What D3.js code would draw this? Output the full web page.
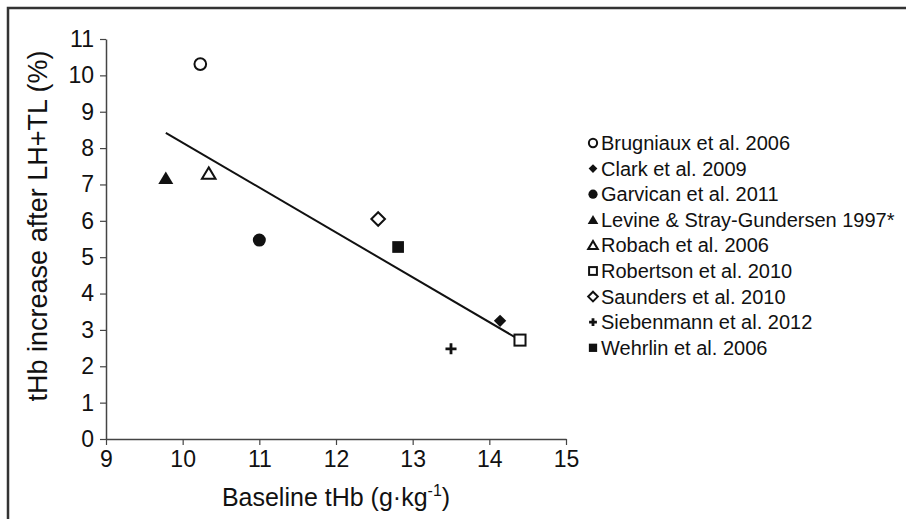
<!DOCTYPE html>
<html><head><meta charset="utf-8">
<script src="https://cdn.jsdelivr.net/npm/d3@7/dist/d3.min.js"></script>
<style>body{margin:0;background:#fff;font-family:"Liberation Sans",Arial,sans-serif;}</style>
</head><body>
<svg id="c" width="906" height="519"></svg>
<script>
const studies = ["Brugniaux et al. 2006","Clark et al. 2009","Garvican et al. 2011","Levine & Stray-Gundersen 1997*","Robach et al. 2006","Robertson et al. 2010","Saunders et al. 2010","Siebenmann et al. 2012","Wehrlin et al. 2006"];
const baselineTHb = [10.23, 14.14, 11.0, 9.78, 10.34, 14.4, 12.55, 13.5, 12.81];
const increasePct = [10.31, 3.25, 5.47, 7.17, 7.3, 2.72, 6.05, 2.48, 5.28];
const markerTypes = ["circleOpen","diamondFilled","circleFilled","triFilled","triOpen","squareOpen","diamondOpen","plus","squareFilled"];
const regX = [9.78, 14.4];
const regY = [8.42, 2.72];
const xTicks = [9,10,11,12,13,14,15];
const yTicks = [0,1,2,3,4,5,6,7,8,9,10,11];

const FONT = "Liberation Sans, Arial, sans-serif";
const svg = d3.select("#c");
// frame
svg.append("path").attr("d","M8,530 L8,8 L920,8").attr("fill","none").attr("stroke","#333").attr("stroke-width",2.5);

const x = d3.scaleLinear().domain([9,15]).range([106,566]);
const y = d3.scaleLinear().domain([0,11]).range([439,39]);

const gx = svg.append("g").attr("transform","translate(0,439)")
  .call(d3.axisBottom(x).tickValues(xTicks).tickFormat(d3.format("d")).tickSize(6).tickSizeOuter(0).tickPadding(6));
const gy = svg.append("g").attr("transform","translate(106,0)")
  .call(d3.axisLeft(y).tickValues(yTicks).tickFormat(d3.format("d")).tickSize(6).tickSizeOuter(0).tickPadding(6));
[gx,gy].forEach(g=>{
  g.attr("font-size",null).attr("font-family",null);
  g.select(".domain").attr("stroke","#444").attr("stroke-width",1.5);
  g.selectAll(".tick line").attr("stroke","#444").attr("stroke-width",1.2);
  g.selectAll("text").style("font-family",FONT).style("font-size","23px").attr("fill","#111");
});

svg.append("text").attr("x",336).attr("y",506).attr("text-anchor","middle")
  .style("font-size","25px").style("font-family",FONT).attr("fill","#111")
  .html('Baseline tHb (g·kg<tspan dy="-10" style="font-size:16px">-1</tspan><tspan dy="10">)</tspan>');
svg.append("text").attr("transform","translate(47,226) rotate(-90)").attr("text-anchor","middle")
  .style("font-size","27px").style("font-family",FONT).attr("fill","#111").text("tHb increase after LH+TL (%)");

// regression line
svg.append("line").attr("x1",x(regX[0])).attr("y1",y(regY[0])).attr("x2",x(regX[1])).attr("y2",y(regY[1]))
  .attr("stroke","#111").attr("stroke-width",2);

function marker(g, type, s){
  const dark="#111";
  const open = type.endsWith("Open");
  const fill = open ? "#fff" : dark;
  const sw = open ? 2 : 0;
  if(type.startsWith("circle")){
    g.append("circle").attr("r",open? s*0.9 : s).attr("fill",fill).attr("stroke",dark).attr("stroke-width",sw);
  } else if(type.startsWith("diamond")){
    const r = open ? s*1.05 : s*0.95;
    g.append("path").attr("d",`M0,${-r}L${r},0L0,${r}L${-r},0Z`).attr("fill",fill).attr("stroke",dark).attr("stroke-width",sw);
  } else if(type.startsWith("tri")){
    const r = open ? s*0.95 : s*1.05;
    g.append("path").attr("d",`M0,${-r}L${r*1.1},${r*0.85}L${-r*1.1},${r*0.85}Z`).attr("fill",fill).attr("stroke",dark).attr("stroke-width",sw).attr("stroke-linejoin","miter");
  } else if(type.startsWith("square")){
    const r = open ? s*0.85 : s*0.9;
    g.append("rect").attr("x",-r).attr("y",-r).attr("width",2*r).attr("height",2*r).attr("fill",fill).attr("stroke",dark).attr("stroke-width",sw);
  } else if(type==="plus"){
    const r=s*0.85;
    g.append("path").attr("d",`M${-r},0H${r}M0,${-r}V${r}`).attr("stroke",dark).attr("stroke-width",2.8);
  }
}

studies.forEach((st,i)=>{
  const g = svg.append("g").attr("transform",`translate(${x(baselineTHb[i])},${y(increasePct[i])})`);
  marker(g, markerTypes[i], 6.5);
});

// legend
const legY0 = 143, legDy = 25.6;
studies.forEach((st,i)=>{
  const g = svg.append("g").attr("transform",`translate(593,${legY0+i*legDy})`);
  const mg = g.append("g");
  marker(mg, markerTypes[i], 4.6);
  g.append("text").attr("x",8).attr("y",7).style("font-size","20px").style("font-family",FONT).attr("fill","#111").text(st);
});
</script>
</body></html>
